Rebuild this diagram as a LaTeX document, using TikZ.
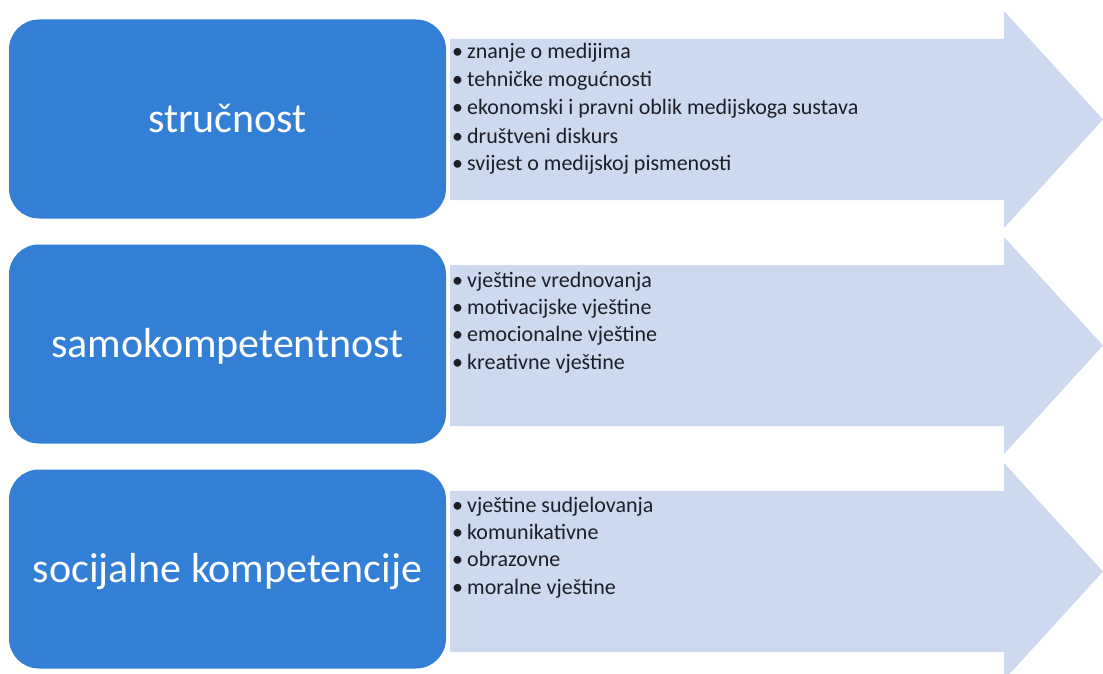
\documentclass[tikz,border=0pt]{standalone}
\usepackage{fontspec}
\setmainfont{Carlito}
\usepackage{xcolor}
\usepackage{tikz}

\definecolor{boxblue}{RGB}{51,127,214}
\definecolor{arrowblue}{RGB}{205,217,238}
\definecolor{itemtext}{RGB}{28,30,40}

\begin{document}
\begin{tikzpicture}[x=1pt, y=-1pt,
    box/.style={rectangle, rounded corners=30pt, fill=boxblue, text=white,
      minimum width=437pt, minimum height=199pt, inner sep=0pt,
      text height=36pt, text depth=10pt, font=\fontsize{42}{50}\selectfont},
    item/.style={anchor=base west, inner sep=0pt, text=itemtext,
      font=\fontsize{22}{27}\selectfont}]

    \useasboundingbox (0, 0) rectangle (1103, 674);

    \fill [arrowblue] (450, 39) -- (1004, 39) -- (1004, 11) -- (1103, 119.5) -- (1004, 228) -- (1004, 200) -- (450, 200) -- cycle;
    \fill [arrowblue] (450, 265) -- (1004, 265) -- (1004, 237) -- (1103, 345.5) -- (1004, 454) -- (1004, 426) -- (450, 426) -- cycle;
    \fill [arrowblue] (450, 491) -- (1004, 491) -- (1004, 463) -- (1103, 571.5) -- (1004, 680) -- (1004, 652) -- (450, 652) -- cycle;

    \node [box] (a) at (227.5, 119) {stručnost};
    \node [box] (b) at (227.5, 344) {samokompetentnost};
    \node [box] (c) at (227.5, 569) {socijalne kompetencije};

    \node [item] (d) at (452, 59) {\makebox[15pt][l]{\textbullet}znanje o medijima};
    \node [item] (e) at (452, 87) {\makebox[15pt][l]{\textbullet}tehničke mogućnosti};
    \node [item] (f) at (452, 115) {\makebox[15pt][l]{\textbullet}ekonomski i pravni oblik medijskoga sustava};
    \node [item] (g) at (452, 143) {\makebox[15pt][l]{\textbullet}društveni diskurs};
    \node [item] (h) at (452, 171) {\makebox[15pt][l]{\textbullet}svijest o medijskoj pismenosti};

    \node [item] (i) at (452, 287) {\makebox[15pt][l]{\textbullet}vještine vrednovanja};
    \node [item] (j) at (452, 314) {\makebox[15pt][l]{\textbullet}motivacijske vještine};
    \node [item] (k) at (452, 341) {\makebox[15pt][l]{\textbullet}emocionalne vještine};
    \node [item] (l) at (452, 369) {\makebox[15pt][l]{\textbullet}kreativne vještine};

    \node [item] (m) at (452, 512) {\makebox[15pt][l]{\textbullet}vještine sudjelovanja};
    \node [item] (n) at (452, 539) {\makebox[15pt][l]{\textbullet}komunikativne};
    \node [item] (o) at (452, 566) {\makebox[15pt][l]{\textbullet}obrazovne};
    \node [item] (p) at (452, 594) {\makebox[15pt][l]{\textbullet}moralne vještine};

  \end{tikzpicture}
\end{document}
